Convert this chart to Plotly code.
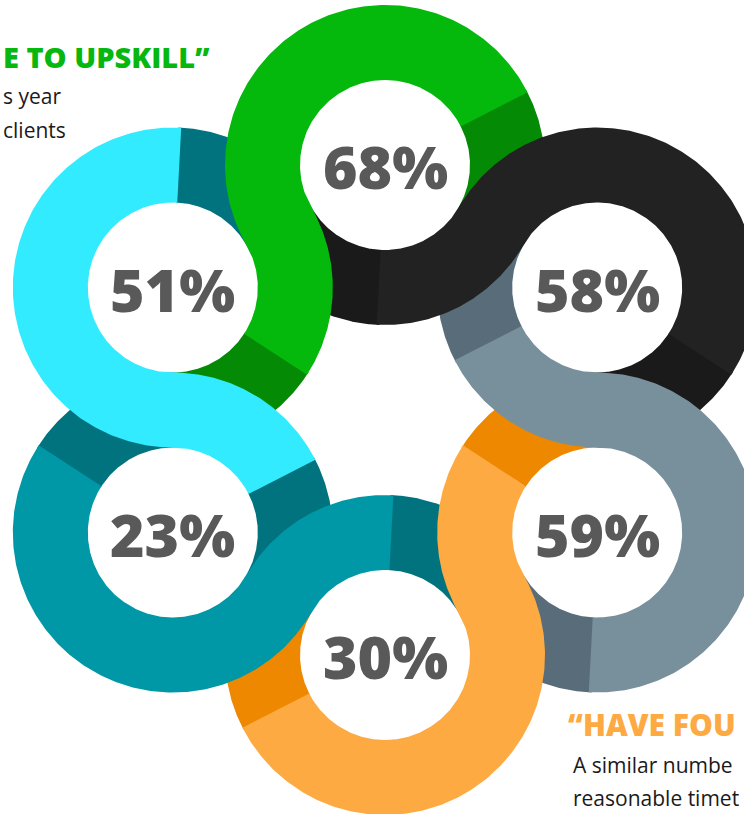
import numpy as np
import plotly.graph_objects as go

# ---- data ----
labels = ["68%", "58%", "59%", "30%", "23%", "51%"]
hex_angles = [90, 30, -30, -90, -150, 150]          # position of each ring around the hexagon
light_colors = ["#04B80C", "#222222", "#78909C", "#FEAA42", "#0097A7", "#33EBFF"]
dark_colors = ["#058A06", "#1A1A1A", "#586D79", "#EE8800", "#00737F", "#00737F"]

heading_top = "E TO UPSKILL\u201d"
body_top = ["s year", "clients"]
heading_bottom = "\u201cHAVE FOU"
body_bottom = ["A similar numbe", "reasonable timet"]

# ---- geometry (pixel space) ----
W, H = 744, 814
CX, CY = 385, 410
HEX_R = 245
R_OUT, R_IN = 160, 85
DARK = 57


def center(k):
    p = np.radians(hex_angles[k])
    return CX + HEX_R * np.cos(p), CY - HEX_R * np.sin(p)


def arc(c, r, a0, a1, n=120):
    a = np.radians(np.linspace(a0, a1, n))
    return list(c[0] + r * np.cos(a)), list(c[1] - r * np.sin(a))


def sector(c, a0, a1):
    x1, y1 = arc(c, R_OUT, a0, a1)
    x2, y2 = arc(c, R_IN, a1, a0)
    return x1 + x2 + [x1[0]], y1 + y2 + [y1[0]]


fig = go.Figure()

darks = []
lights = []
for k in range(6):
    a = (k - 1) % 6
    cA, cB = center(a), center(k)
    pA, pB = hex_angles[a], hex_angles[k]
    # dark ends
    darks.append((sector(cA, pA + 120, pA + 120 + DARK + 1), dark_colors[k]))
    darks.append((sector(cB, pB - 120 + DARK + 1, pB - 120), dark_colors[k]))
    # light S body
    x1, y1 = arc(cA, R_OUT, pA + 120 + DARK, pA + 240)
    x2, y2 = arc(cB, R_IN, pB + 120, pB - 120 + DARK, 200)
    x3, y3 = arc(cB, R_OUT, pB - 120 + DARK, pB + 120, 200)
    x4, y4 = arc(cA, R_IN, pA + 240, pA + 120 + DARK)
    xs = x1 + x2 + x3 + x4 + [x1[0]]
    ys = y1 + y2 + y3 + y4 + [y1[0]]
    lights.append(((xs, ys), light_colors[k]))

for (xs, ys), col in darks + lights:
    fig.add_trace(go.Scatter(x=xs, y=ys, mode="lines", fill="toself",
                             fillcolor=col, line=dict(width=0, color=col),
                             hoverinfo="skip", showlegend=False))

# percentage labels
for k in range(6):
    cx, cy = center(k)
    fig.add_annotation(x=cx, y=cy + 1, text=labels[k], showarrow=False,
                       xanchor="center", yanchor="middle",
                       font=dict(family="Open Sans", size=59, color="#595959", weight=800))

# side texts
fig.add_annotation(x=1, y=56, text=heading_top, showarrow=False,
                   xanchor="left", yanchor="middle",
                   font=dict(family="Open Sans", size=29, color="#06B70E", weight=800))
for i, t in enumerate(body_top):
    fig.add_annotation(x=1, y=96 + 34 * i, text=t, showarrow=False,
                       xanchor="left", yanchor="middle",
                       font=dict(family="Open Sans", size=21, color="#1A1A1A"))

fig.add_annotation(x=566, y=724, text=heading_bottom, showarrow=False,
                   xanchor="left", yanchor="middle",
                   font=dict(family="Open Sans", size=30, color="#FEAA42", weight=800))
for i, t in enumerate(body_bottom):
    fig.add_annotation(x=571, y=765 + 33 * i, text=t, showarrow=False,
                       xanchor="left", yanchor="middle",
                       font=dict(family="Open Sans", size=21, color="#1A1A1A"))

fig.update_layout(
    width=W, height=H,
    margin=dict(l=0, r=0, t=0, b=0, pad=0),
    paper_bgcolor="white", plot_bgcolor="white",
    xaxis=dict(range=[0, W], visible=False, fixedrange=True),
    yaxis=dict(range=[H, 0], visible=False, fixedrange=True),
    showlegend=False,
)

fig.write_html("out.html")
